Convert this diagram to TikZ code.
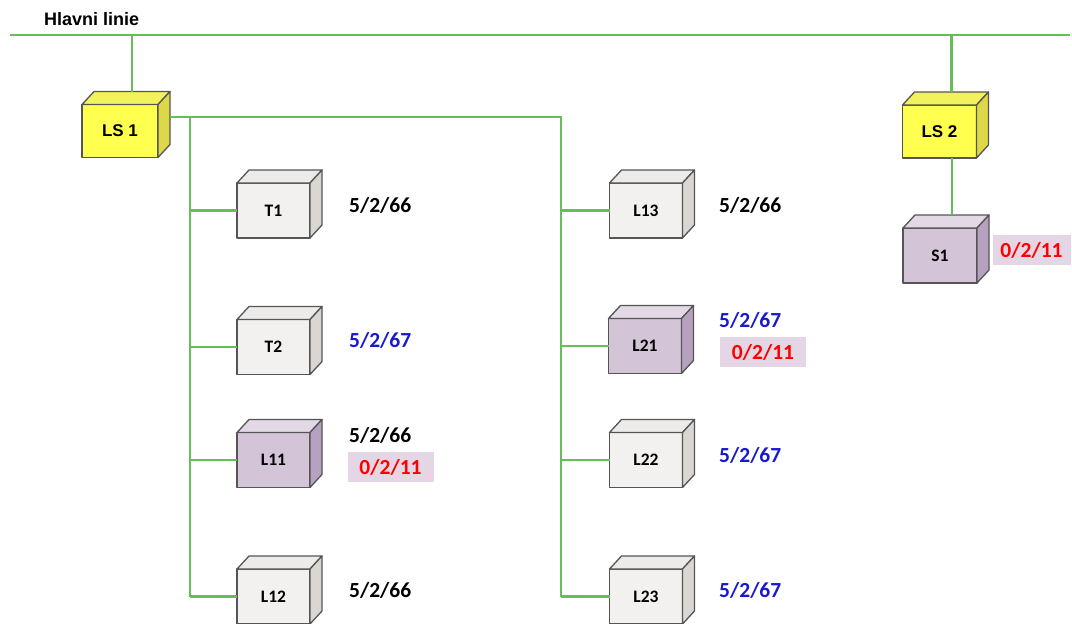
\documentclass[tikz,border=0pt]{standalone}
\usepackage{fontspec}
\setmainfont{Carlito}
\newfontfamily\arialfont{Liberation Sans}
\usetikzlibrary{calc}
\definecolor{linegreen}{RGB}{102,190,88}
\definecolor{edgegray}{RGB}{85,85,85}
\definecolor{valblue}{RGB}{25,25,205}
\definecolor{valred}{RGB}{255,0,0}
\definecolor{pinkbg}{RGB}{228,214,228}
\definecolor{grayfront}{RGB}{242,241,240}
\definecolor{graytop}{RGB}{236,235,233}
\definecolor{grayside}{RGB}{218,215,211}
\definecolor{purplefront}{RGB}{212,196,216}
\definecolor{purpletop}{RGB}{226,216,230}
\definecolor{purpleside}{RGB}{182,162,192}
\definecolor{yellowfront}{RGB}{255,255,80}
\definecolor{yellowtop}{RGB}{242,242,92}
\definecolor{yellowside}{RGB}{222,216,72}
\newcommand\cubebox[6]{% name, position, text, colour prefix, width, height
  \node[cubefront, fill=#4front, minimum width=#5, minimum height=#6] (#1) at (#2) {#3};
  \draw[cubeedge, fill=#4top] (#1.north west) -- ++(12,-13) -- ($(#1.north east)+(12,-13)$) -- (#1.north east) -- cycle;
  \draw[cubeedge, fill=#4side] (#1.north east) -- ++(12,-13) -- ($(#1.south east)+(12,-13)$) -- (#1.south east) -- cycle;
}
\begin{document}
\begin{tikzpicture}[x=1pt,y=-1pt,
  bus/.style={draw=linegreen, line width=2.6pt},
  cubeedge/.style={draw=edgegray, line width=1.3pt, line join=round},
  cubefront/.style={cubeedge, inner sep=0, outer sep=0, font=\bfseries\fontsize{17.5}{20}\selectfont},
  lsfont/.style={font=\arialfont\bfseries\fontsize{17}{20}\selectfont},
  value/.style={anchor=west, inner sep=0, font=\bfseries\fontsize{21.5}{25}\selectfont},
  redval/.style={fill=pinkbg, text=valred, minimum width=86, minimum height=30, inner sep=0, font=\bfseries\fontsize{21.5}{25}\selectfont},
  title/.style={anchor=west, inner sep=0, font=\arialfont\bfseries\fontsize{18}{20}\selectfont}]
\useasboundingbox (0,0) rectangle (1072,624);

% main line
\node[title] (hl) at (44,19) {Hlavni linie};
\coordinate (mainL) at (10,35);
\coordinate (mainR) at (1070,35);
\draw[bus] (mainL) -- (mainR);

% cubes
\cubebox{LS1}{120,131}{\arialfont\fontsize{17}{20}\selectfont LS 1}{yellow}{76}{53}
\cubebox{LS2}{939.5,131.5}{\arialfont\fontsize{17}{20}\selectfont LS 2}{yellow}{74}{53}
\cubebox{T1}{273.5,210.5}{T1}{gray}{73}{55}
\cubebox{T2}{273.5,347}{T2}{gray}{73}{55}
\cubebox{L11}{273.5,460}{L11}{purple}{73}{55}
\cubebox{L12}{273.5,596.5}{L12}{gray}{73}{55}
\cubebox{L13}{646,210.5}{L13}{gray}{73}{55}
\cubebox{L21}{645,346}{L21}{purple}{73}{55}
\cubebox{L22}{646,460}{L22}{gray}{73}{55}
\cubebox{L23}{646,596.5}{L23}{gray}{73}{55}
\cubebox{S1}{940,255.5}{S1}{purple}{74}{55}

% connectors
\coordinate (LS1top) at ($(LS1.north)+(12,-13)$);
\coordinate (LS2top) at ($(LS2.north)+(12,-13)$);
\coordinate (S1top) at ($(S1.north)+(12,-13)$);
\coordinate (busTop) at ($(LS1.east)+(12,-14)$);
\coordinate (busL) at (190,117);
\coordinate (busR) at (561,117);
\draw[bus] (LS1top) -- (LS1top |- mainL);
\draw[bus] (LS2top) -- (LS2top |- mainL);
\draw[bus] (S1top) -- (S1top |- LS2.south);
\draw[bus] (busTop) -- (busR) -- (busR |- L23.west);
\draw[bus] (busL) -- (busL |- L12.west);
\foreach \n in {T1,T2,L11,L12}{\draw[bus] (\n.west) -- (\n.west -| busL);}
\foreach \n in {L13,L21,L22,L23}{\draw[bus] (\n.west) -- (\n.west -| busR);}

% values
\node[value] (vT1) at (349,205) {5/2/66};
\node[value, text=valblue] (vT2) at (349,340) {5/2/67};
\node[value] (vL11) at (349,435) {5/2/66};
\node[redval] (rL11) at (390.5,467) {0/2/11};
\node[value] (vL12) at (349,590) {5/2/66};
\node[value] (vL13) at (719,205) {5/2/66};
\node[value, text=valblue] (vL21) at (719,320) {5/2/67};
\node[redval] (rL21) at (763,352) {0/2/11};
\node[value, text=valblue] (vL22) at (719,455) {5/2/67};
\node[value, text=valblue] (vL23) at (719,590) {5/2/67};
\node[redval, minimum width=78] (rS1) at (1031.5,250) {0/2/11};
\end{tikzpicture}
\end{document}
